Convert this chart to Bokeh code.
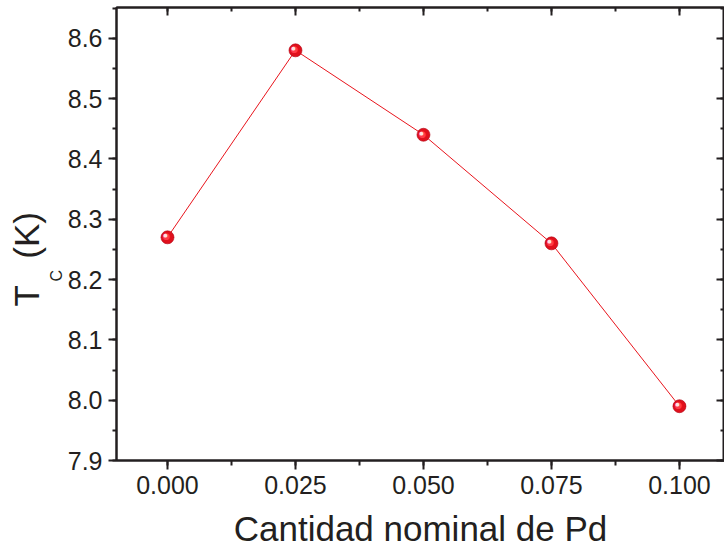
import math
from bokeh.plotting import figure
from bokeh.models import Range1d, LinearAxis, SingleIntervalTicker, NumeralTickFormatter, Title, CustomJSTickFormatter
from bokeh.core.properties import value
from bokeh.embed import file_html
from bokeh.resources import INLINE

# ---- data ----
pd_content = [0.000, 0.025, 0.050, 0.075, 0.100]
tc_values = [8.27, 8.58, 8.44, 8.26, 7.99]
x_label = "Cantidad nominal de Pd"
y_label_main = "T"
y_label_sub = "C"
y_label_unit = "(K)"

# ---- layout ----
W, H = 724, 550
LEFT, TOP, BOTTOM = 116, 7, 90
X0, X1 = -0.00996, 0.1088
Y0, Y1 = 7.9, 8.651
FONT = "Liberation Sans"
INK = "#231f20"
RED = "#e8141c"

p = figure(width=W, height=H, x_range=Range1d(X0, X1), y_range=Range1d(Y0, Y1),
           output_backend="svg", toolbar_location=None,
           min_border_left=LEFT, min_border_right=0, min_border_top=TOP, min_border_bottom=BOTTOM)
p.grid.visible = False
p.outline_line_color = INK
p.outline_line_width = 2
p.background_fill_color = "white"
p.border_fill_color = "white"

xt = SingleIntervalTicker(interval=0.025, num_minor_ticks=2)
yt = SingleIntervalTicker(interval=0.1, num_minor_ticks=2)

def style(ax, labels=True):
    ax.axis_line_color = INK
    ax.axis_line_width = 2
    ax.major_tick_line_color = INK
    ax.major_tick_line_width = 2
    ax.minor_tick_line_color = INK
    ax.minor_tick_line_width = 2
    ax.major_label_text_font = FONT
    ax.major_label_text_color = INK
    if labels:
        ax.major_label_text_font_size = "25px"
    else:
        ax.formatter = CustomJSTickFormatter(code="return ''")
        ax.major_label_text_font_size = "1px"
        ax.major_label_standoff = 0
        ax.major_tick_in = 8
        ax.major_tick_out = 0
        ax.minor_tick_in = 4
        ax.minor_tick_out = 0

xa = p.xaxis[0]
xa.ticker = xt
xa.formatter = NumeralTickFormatter(format="0.000")
style(xa)
xa.major_tick_in = 0
xa.major_tick_out = 9
xa.minor_tick_in = 0
xa.minor_tick_out = 5
xa.major_label_standoff = 6
xa.axis_label = x_label
xa.axis_label_text_font = FONT
xa.axis_label_text_font_size = "35px"
xa.axis_label_text_font_style = "normal"
xa.axis_label_text_color = INK
xa.axis_label_standoff = 12

ya = p.yaxis[0]
ya.ticker = yt
ya.formatter = NumeralTickFormatter(format="0.0")
style(ya)
ya.major_tick_in = 0
ya.major_tick_out = 8
ya.minor_tick_in = 0
ya.minor_tick_out = 4
ya.major_label_standoff = 6

top_ax = LinearAxis(ticker=SingleIntervalTicker(interval=0.025, num_minor_ticks=2))
style(top_ax, labels=False)
p.add_layout(top_ax, "above")
right_ax = LinearAxis(ticker=SingleIntervalTicker(interval=0.1, num_minor_ticks=2))
style(right_ax, labels=False)
p.add_layout(right_ax, "right")

# ---- series ----
p.line(pd_content, tc_values, line_color=RED, line_width=1)
p.scatter(pd_content, tc_values, size=13, fill_color="#e0101c", line_color="#b00010", line_width=0.6)
p.text(pd_content, tc_values, text=["\u25cf"] * len(pd_content), x_offset=-1, y_offset=-1,
       text_align="center", text_baseline="middle", text_font_size="9px",
       text_color="#ff3a48", text_font=value("DejaVu Sans"))
p.text(pd_content, tc_values, text=["\u25cf"] * len(pd_content), x_offset=-2, y_offset=-2,
       text_align="center", text_baseline="middle", text_font_size="5px",
       text_color="#ffe0e0", text_font=value("DejaVu Sans"))

# ---- y title (with subscript) as side titles ----
sub_title = Title(text=y_label_sub, align="left", offset=179, text_font=FONT,
                  text_font_size="16px", text_font_style="normal", text_color=INK,
                  vertical_align="bottom", standoff=0)
p.add_layout(sub_title, "left")
main_title = Title(text=y_label_main + "\u00a0\u00a0\u2009" + y_label_unit, align="left",
                   offset=154, text_font=FONT, text_font_size="35px",
                   text_font_style="normal", text_color=INK, vertical_align="bottom", standoff=0)
p.add_layout(main_title, "left")

open("out.html", "w").write(file_html(p, INLINE))
